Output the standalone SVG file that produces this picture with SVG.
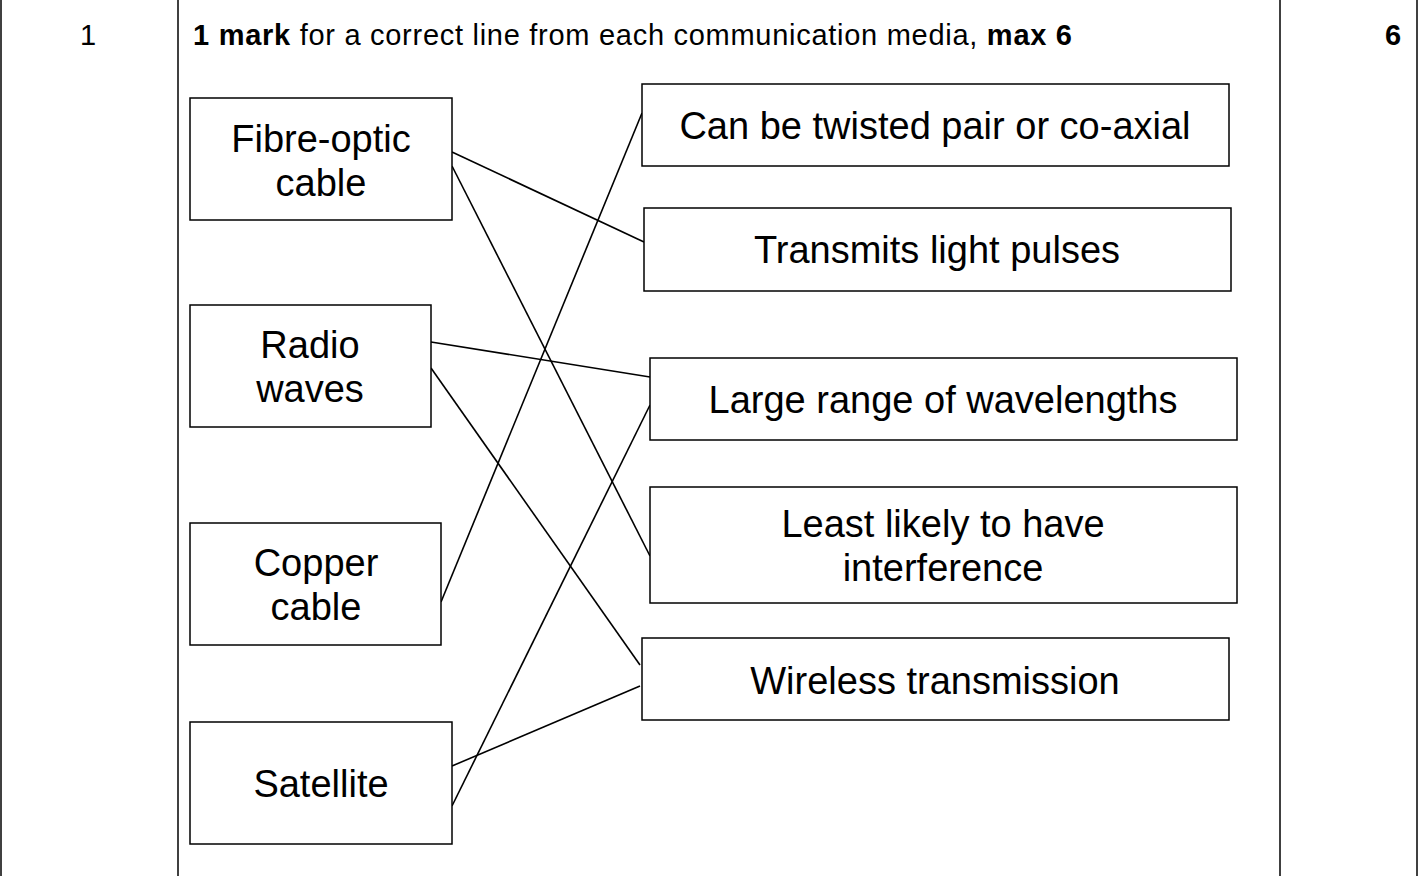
<svg xmlns="http://www.w3.org/2000/svg" width="1418" height="876" viewBox="0 0 1418 876">
<style>
.b{fill:#fff;stroke:#000;stroke-width:1.5}
.t{font-family:"Liberation Sans",Arial,sans-serif;font-size:38px;text-anchor:middle}
.h{font-family:"Liberation Sans",Arial,sans-serif;font-size:29px}
.c line{stroke:#000;stroke-width:1.6}
</style>
<rect width="1418" height="876" fill="#fff"/>
<g id="table" fill="none" stroke="#000" stroke-width="1.5">
<line x1="1" y1="0" x2="1" y2="876"/><line x1="178" y1="0" x2="178" y2="876"/>
<line x1="1280" y1="0" x2="1280" y2="876"/><line x1="1417" y1="0" x2="1417" y2="876"/>
</g>
<text class="h" x="80" y="45">1</text>
<text class="h" x="193" y="45" textLength="879" lengthAdjust="spacing"><tspan font-weight="bold">1 mark</tspan> for a correct line from each communication media, <tspan font-weight="bold">max 6</tspan></text>
<text class="h" x="1385" y="45" font-weight="bold">6</text>
<g class="c">
<line x1="452" y1="152" x2="644" y2="242"/>
<line x1="452" y1="166" x2="650" y2="556"/>
<line x1="431" y1="342" x2="650" y2="377"/>
<line x1="431" y1="368" x2="640" y2="665"/>
<line x1="441" y1="602" x2="642" y2="113"/>
<line x1="452" y1="766" x2="640" y2="686"/>
<line x1="452" y1="806" x2="650" y2="405"/>
</g>
<g id="fibre"><rect class="b" x="190" y="98" width="262" height="122"/><text class="t" x="321" y="152">Fibre-optic</text><text class="t" x="321" y="196">cable</text></g>
<g id="radio"><rect class="b" x="190" y="305" width="241" height="122"/><text class="t" x="310" y="358">Radio</text><text class="t" x="310" y="402">waves</text></g>
<g id="copper"><rect class="b" x="190" y="523" width="251" height="122"/><text class="t" x="316" y="576">Copper</text><text class="t" x="316" y="620">cable</text></g>
<g id="satellite"><rect class="b" x="190" y="722" width="262" height="122"/><text class="t" x="321" y="797">Satellite</text></g>
<g id="twisted"><rect class="b" x="642" y="84" width="587" height="82"/><text class="t" x="935" y="139">Can be twisted pair or co-axial</text></g>
<g id="light"><rect class="b" x="644" y="208" width="587" height="83"/><text class="t" x="937" y="263">Transmits light pulses</text></g>
<g id="range"><rect class="b" x="650" y="358" width="587" height="82"/><text class="t" x="943" y="413">Large range of wavelengths</text></g>
<g id="least"><rect class="b" x="650" y="487" width="587" height="116"/><text class="t" x="943" y="537">Least likely to have</text><text class="t" x="943" y="581">interference</text></g>
<g id="wireless"><rect class="b" x="642" y="638" width="587" height="82"/><text class="t" x="935" y="694">Wireless transmission</text></g>
</svg>
